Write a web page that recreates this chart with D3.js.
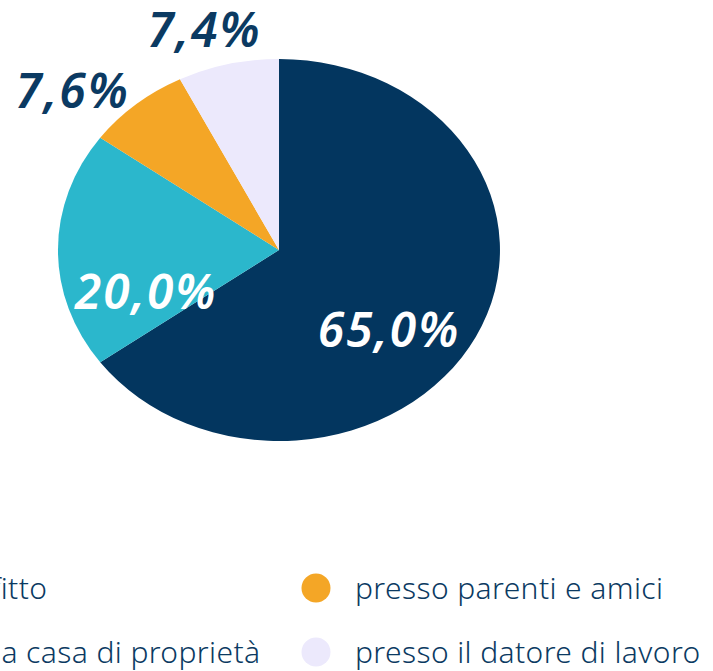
<!DOCTYPE html>
<html>
<head>
<meta charset="utf-8">
<script src="https://cdn.jsdelivr.net/npm/d3@7"></script>
<style>
  body { margin: 0; background: #fff; overflow: hidden; }
  text { font-family: "Noto Sans", sans-serif; }
</style>
</head>
<body>
<div id="chart"></div>
<script>
var width = 713,
  height = 671;

// data
var categories = ["in affitto", "in una casa di proprietà", "presso parenti e amici", "presso il datore di lavoro"];
var values = [65.0, 20.0, 7.6, 7.4];
var colors = ["#03365f", "#2bb7cc", "#f4a626", "#ece9fc"];
// slice order in the pie (clockwise from 12 o'clock)
var pieOrder = [0, 1, 2, 3];

var cx = 279, cy = 250, rx = 221, ry = 191;

// label placement: [radius factor, angle shift in degrees]
var labelPos = [[0.65, 13], [0.64, -20], [1.25, -8], [1.2, -3]];

var svg = d3.select("#chart").append("svg")
  .attr("width", width)
  .attr("height", height);

var pie = d3.pie().sort(null).value(function(d) { return values[d]; });
var arcs = pie(pieOrder);

// draw on a unit circle, then stretch into the ellipse
var g = svg.append("g")
  .attr("transform", "translate(" + cx + "," + cy + ")");

var arc = d3.arc().innerRadius(0).outerRadius(1);

g.selectAll("path.slice")
  .data(arcs)
  .enter()
  .append("path")
  .attr("class", "slice")
  .attr("transform", "scale(" + rx + "," + ry + ")")
  .attr("d", arc)
  .style("fill", function(d) { return colors[d.data]; })
  .style("stroke", "none");

var fmt = function(v) { return d3.format(".1f")(v).replace(".", ",") + "%"; };

g.selectAll("text.lbl")
  .data(arcs)
  .enter()
  .append("text")
  .attr("class", "lbl")
  .attr("x", function(d, i) {
    var a = (d.startAngle + d.endAngle) / 2 + labelPos[i][1] * Math.PI / 180;
    return Math.sin(a) * labelPos[i][0] * rx;
  })
  .attr("y", function(d, i) {
    var a = (d.startAngle + d.endAngle) / 2 + labelPos[i][1] * Math.PI / 180;
    return -Math.cos(a) * labelPos[i][0] * ry;
  })
  .attr("dy", "0.35em")
  .attr("text-anchor", "middle")
  .style("font-size", "48px")
  .style("letter-spacing", "2px")
  .style("font-weight", 600)
  .style("font-style", "italic")
  .style("fill", function(d, i) { return labelPos[i][0] > 1 ? "#0b3a62" : "#ffffff"; })
  .text(function(d) { return fmt(values[d.data]); });

// legend, 2 columns x 2 rows
var legCol = d3.scaleBand().domain([0, 1]).range([-108, 740]);
var legRow = d3.scaleBand().domain([0, 1]).range([556, 684]);

var leg = svg.selectAll("g.leg")
  .data(categories)
  .enter()
  .append("g")
  .attr("class", "leg")
  .attr("transform", function(d, i) {
    return "translate(" + legCol(Math.floor(i / 2)) + "," + (legRow(i % 2) + legRow.bandwidth() / 2) + ")";
  });

leg.append("circle")
  .attr("cx", 0)
  .attr("cy", 0)
  .attr("r", 14.5)
  .style("fill", function(d, i) { return colors[i]; });

leg.append("text")
  .attr("x", 39)
  .attr("y", 0)
  .attr("dy", "0.35em")
  .style("font-size", "30px")
  .style("letter-spacing", "0.4px")
  .style("font-weight", 300)
  .style("fill", "#0b3a62")
  .text(function(d) { return d; });
</script>
</body>
</html>
